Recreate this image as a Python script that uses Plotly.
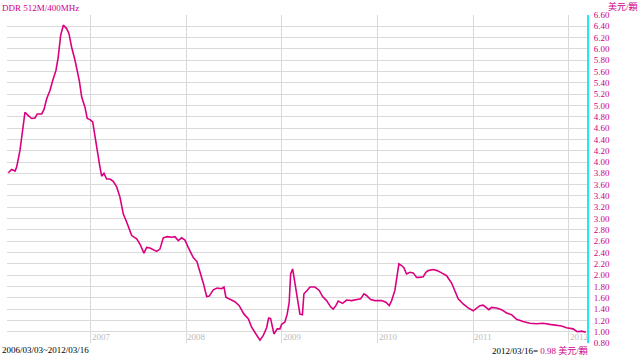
import plotly.graph_objects as go

# decimal-year positions and prices (US$/chip)
years = [2006.139, 2006.174, 2006.209, 2006.226, 2006.261, 2006.289, 2006.313, 2006.348, 2006.383, 2006.418,
         2006.442, 2006.488, 2006.512, 2006.540, 2006.575, 2006.603, 2006.637, 2006.661, 2006.686, 2006.714,
         2006.749, 2006.773, 2006.801, 2006.836, 2006.860, 2006.881, 2006.906, 2006.940, 2006.964, 2006.993,
         2007.021, 2007.045, 2007.073, 2007.097, 2007.115, 2007.139, 2007.167, 2007.202, 2007.236, 2007.272,
         2007.306, 2007.341, 2007.376, 2007.429, 2007.481, 2007.515, 2007.557, 2007.585, 2007.620, 2007.654,
         2007.690, 2007.724, 2007.759, 2007.801, 2007.847, 2007.881, 2007.916, 2007.951, 2007.986, 2008.020,
         2008.073, 2008.111, 2008.146, 2008.181, 2008.213, 2008.240, 2008.282, 2008.323, 2008.369, 2008.394,
         2008.414, 2008.456, 2008.508, 2008.553, 2008.603, 2008.648, 2008.683, 2008.728, 2008.770, 2008.804,
         2008.840, 2008.861, 2008.882, 2008.916, 2008.951, 2008.979, 2008.997, 2009.031, 2009.055, 2009.076,
         2009.091, 2009.112, 2009.136, 2009.160, 2009.188, 2009.214, 2009.230, 2009.258, 2009.293, 2009.345,
         2009.390, 2009.425, 2009.467, 2009.509, 2009.536, 2009.564, 2009.588, 2009.634, 2009.676, 2009.728,
         2009.781, 2009.823, 2009.857, 2009.885, 2009.927, 2009.972, 2010.042, 2010.087, 2010.122, 2010.147,
         2010.181, 2010.205, 2010.223, 2010.251, 2010.275, 2010.303, 2010.338, 2010.372, 2010.408, 2010.442,
         2010.477, 2010.505, 2010.529, 2010.581, 2010.623, 2010.669, 2010.722, 2010.774, 2010.808, 2010.843,
         2010.895, 2010.947, 2011.000, 2011.035, 2011.070, 2011.104, 2011.140, 2011.164, 2011.192, 2011.244,
         2011.297, 2011.349, 2011.401, 2011.453, 2011.522, 2011.592, 2011.662, 2011.731, 2011.801, 2011.871,
         2011.924, 2011.976, 2012.045, 2012.087, 2012.133, 2012.178]
prices = [3.81, 3.87, 3.84, 3.91, 4.21, 4.62, 4.88, 4.82, 4.77, 4.78,
          4.85, 4.85, 4.93, 5.12, 5.27, 5.44, 5.62, 5.86, 6.24, 6.42,
          6.36, 6.27, 6.03, 5.80, 5.62, 5.44, 5.15, 4.97, 4.77, 4.75,
          4.71, 4.44, 4.15, 3.91, 3.75, 3.80, 3.70, 3.70, 3.66, 3.56,
          3.38, 3.08, 2.94, 2.70, 2.64, 2.55, 2.39, 2.49, 2.48, 2.45,
          2.42, 2.46, 2.66, 2.68, 2.67, 2.68, 2.61, 2.66, 2.62, 2.49,
          2.31, 2.24, 2.06, 1.84, 1.62, 1.63, 1.74, 1.77, 1.76, 1.79,
          1.61, 1.57, 1.53, 1.46, 1.31, 1.23, 1.08, 0.96, 0.85, 0.93,
          1.07, 1.24, 1.23, 0.96, 1.05, 1.05, 1.13, 1.17, 1.31, 1.52,
          2.02, 2.11, 1.87, 1.58, 1.31, 1.30, 1.67, 1.72, 1.79, 1.79,
          1.73, 1.62, 1.55, 1.44, 1.40, 1.46, 1.54, 1.50, 1.56, 1.55,
          1.57, 1.58, 1.67, 1.64, 1.57, 1.55, 1.55, 1.52, 1.46, 1.55,
          1.73, 2.02, 2.20, 2.17, 2.13, 2.02, 2.05, 2.04, 1.96, 1.96,
          1.97, 2.05, 2.08, 2.10, 2.08, 2.04, 1.99, 1.86, 1.71, 1.58,
          1.49, 1.42, 1.37, 1.42, 1.46, 1.47, 1.43, 1.39, 1.43, 1.42,
          1.39, 1.33, 1.30, 1.22, 1.18, 1.15, 1.14, 1.15, 1.13, 1.11,
          1.10, 1.07, 1.05, 1.00, 1.01, 0.99]

year_ticks = [2007, 2008, 2009, 2010, 2011, 2012]
year_labels = ["2007", "2008", "2009", "2010", "2011", "2012"]

title_text = "DDR 512M/400MHz"
unit_text = "美元/顆"
period_text = "2006/03/03~2012/03/16"
last_date_text = "2012/03/16="
last_value_text = "0.98 美元/顆"

MAG = "rgb(218,0,128)"
TXT_MAG = "rgb(204,0,136)"
GRID = "#DADADA"
FONT = "Liberation Serif, Noto Sans CJK TC, serif"

fig = go.Figure()
fig.add_trace(go.Scatter(x=years, y=prices, mode="lines",
                         line=dict(color=MAG, width=1.6), hoverinfo="skip",
                         showlegend=False))

fig.update_layout(
    width=640, height=356,
    margin=dict(l=7, r=53, t=15, b=13),
    paper_bgcolor="white", plot_bgcolor="white",
    font=dict(family=FONT, size=9, color=TXT_MAG),
    xaxis=dict(range=[2006.125, 2012.19], tickvals=year_ticks, showticklabels=False,
               showgrid=True, gridcolor=GRID, gridwidth=1, zeroline=False,
               showline=False, ticks=""),
    yaxis=dict(range=[0.8, 6.6], dtick=0.2, tick0=0.8, tickformat=".2f", side="right",
               showgrid=True, gridcolor=GRID, gridwidth=1, zeroline=False,
               showline=True, linecolor="#1EEAF2", linewidth=2, ticks="",
               ticklabelstandoff=3,
               tickfont=dict(family=FONT, size=9, color=TXT_MAG)),
)

annotations = []
for yv, lab in zip(year_ticks, year_labels):
    annotations.append(dict(x=yv, y=0.8, xref="x", yref="y", text=lab, showarrow=False,
                            xanchor="left", yanchor="bottom", xshift=-1, yshift=-1,
                            font=dict(family=FONT, size=9, color="#BBBBBB")))
annotations += [
    dict(x=0, y=1, xref="paper", yref="paper", text=title_text, showarrow=False,
         xanchor="left", yanchor="bottom", xshift=-7, yshift=0,
         font=dict(family=FONT, size=9, color=TXT_MAG)),
    dict(x=1, y=1, xref="paper", yref="paper", text=unit_text, showarrow=False,
         xanchor="right", yanchor="bottom", xshift=53, yshift=1,
         font=dict(family=FONT, size=9, color=TXT_MAG)),
    dict(x=0, y=0, xref="paper", yref="paper", text=period_text, showarrow=False,
         xanchor="left", yanchor="top", xshift=-7, yshift=0,
         font=dict(family=FONT, size=9, color="black")),
    dict(x=1, y=0, xref="paper", yref="paper",
         text=last_date_text + " <span style='color:" + TXT_MAG + "'>" + last_value_text + "</span>",
         showarrow=False, xanchor="right", yanchor="top", xshift=3, yshift=0,
         font=dict(family=FONT, size=9, color="black")),
]
fig.update_layout(annotations=annotations)

fig.write_html("out.html")
